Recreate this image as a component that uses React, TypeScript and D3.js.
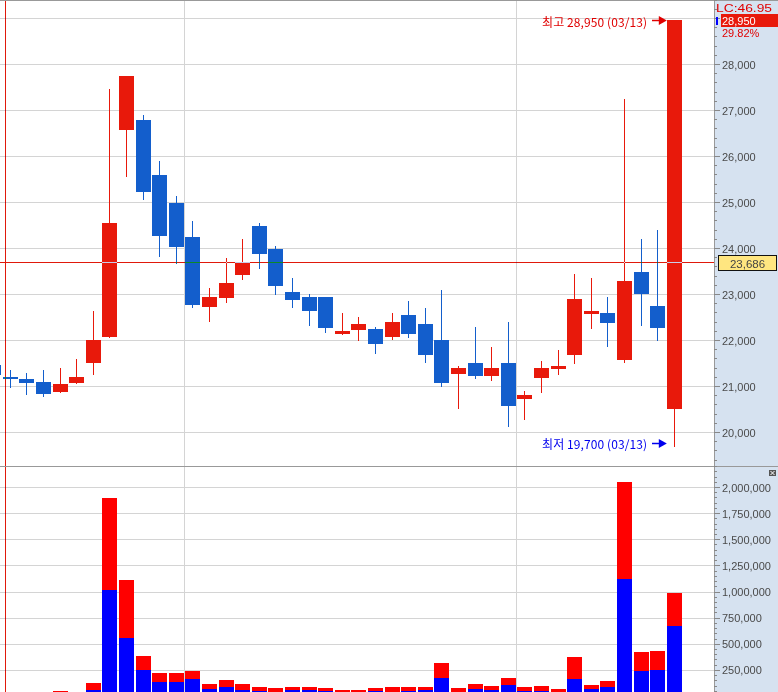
import React from "react";
import * as d3 from "d3";

// ---------- DATA ----------
const dates = [
  "01/11","01/12","01/15","01/16","01/17","01/18","01/19","01/22","01/23","01/24",
  "01/25","01/26","01/29","01/30","01/31","02/01","02/02","02/05","02/06","02/07",
  "02/08","02/13","02/14","02/15","02/16","02/19","02/20","02/21","02/22","02/23",
  "02/26","02/27","02/28","02/29","03/04","03/05","03/06","03/07","03/08","03/11",
  "03/12","03/13",
];
const opens = [
  21450,21200,21150,21090,20880,21070,21490,22070,26570,26780,
  25590,24980,24240,22720,22920,23420,24480,23980,23040,22940,
  22940,22120,22220,22240,22070,22540,22350,22000,21270,21500,
  21220,21500,20720,21180,21380,21680,22570,22590,21570,23480,
  22740,20490,
];
const highs = [
  21500,21350,21280,21350,21390,21590,22630,27450,27740,26900,
  25890,25130,24590,23130,23780,24200,24540,24040,23350,23000,
  22940,22590,22500,22280,22590,22850,22700,23090,21430,22280,
  21850,22390,20900,21550,21780,23430,23350,22940,27240,24200,
  24390,28950,
];
const lows = [
  21200,20980,20830,20790,20870,21070,21260,22070,25570,25070,
  23830,23680,22720,22420,22830,23330,23570,22990,22720,22330,
  22180,22120,21990,21720,22030,22070,21530,20990,20530,21180,
  21140,20140,20290,20880,21270,21490,22270,21880,21530,22330,
  21990,19700,
];
const closes = [
  21250,21150,21070,20830,21040,21200,22000,24550,27740,25220,
  24270,24030,22770,22940,23240,23700,23880,23180,22880,22620,
  22270,22200,22350,21920,22390,22120,21680,21070,21390,21220,
  21390,20570,20800,21390,21440,22890,22640,22380,23280,22990,
  22270,28950,
];
const volBlue = [
  15000,15000,10000,15000,20000,15000,58000,1010000,558000,250000,
  135000,135000,163000,67000,87000,58000,48000,38000,58000,58000,
  48000,30000,30000,48000,30000,48000,58000,173000,25000,67000,
  58000,106000,48000,48000,20000,163000,67000,87000,1115000,240000,
  250000,673000,
];
const volRed = [
  15000,15000,15000,20000,28000,20000,67000,884000,548000,135000,
  86000,86000,77000,48000,67000,57000,39000,39000,29000,29000,
  29000,28000,28000,29000,57000,39000,29000,144000,52000,48000,
  38000,67000,39000,48000,47000,212000,39000,57000,933000,183000,
  183000,308000,
];
const priceGrid = [20000,21000,22000,23000,24000,25000,26000,27000,28000,29000];
const priceLabels = [20000,21000,22000,23000,24000,25000,26000,27000,28000];
const volTicks = [250000,500000,750000,1000000,1250000,1500000,1750000,2000000];
const lastClose = 28950;
const lastChangeLabel = "29.82%";
const lcLabel = "LC:46.95";
const crossPrice = 23686;
const highLabel = "최고 28,950 (03/13)";
const lowLabel = "최저 19,700 (03/13)";

// ---------- LAYOUT ----------
const W = 778;
const H = 692;
const plotRight = 714;
const sep = 466;
const RED = "#e8190b";
const BLUE = "#135ecc";
const AXIS_BG = "#d6e2f0";
const GRID = "#d4d4d4";
const fmt = d3.format(",");

export default function App() {
  const x = d3.scaleLinear().domain([0, dates.length - 1]).range([-6.3, 674.3]);
  const y = d3.scaleLinear().domain([20000, 28000]).range([432, 64]);
  const yv = d3.scaleLinear().domain([0, 2000000]).range([696, 487]);
  const bw = 15;
  const px = (v: number) => Math.round(v) + 0.5;

  const priceMinor = d3.range(19000, 29801, 200);
  const volMinor = d3.range(0, 2200001, 50000);

  const yc = y(crossPrice);
  const hx = x(dates.length - 1) - bw / 2;

  return (
    <svg width={W} height={H} style={{ position: "absolute", left: 0, top: 0, display: "block" }}
      fontFamily="'Liberation Sans', Arial, sans-serif">
      <defs>
        <clipPath id="cTop"><rect x={0} y={0} width={plotRight} height={sep} /></clipPath>
        <clipPath id="cBot"><rect x={0} y={sep} width={plotRight} height={H - sep} /></clipPath>
        <clipPath id="cAxTop"><rect x={plotRight} y={0} width={W - plotRight} height={sep} /></clipPath>
        <clipPath id="cAxBot"><rect x={plotRight} y={sep} width={W - plotRight} height={H - sep} /></clipPath>
      </defs>
      <g style={{ isolation: "isolate" }}>
        <rect x={0} y={0} width={W} height={H} fill="#fff" />
        <rect x={plotRight} y={0} width={W - plotRight} height={H} fill={AXIS_BG} />

        {/* price grid */}
        <g clipPath="url(#cTop)" shapeRendering="crispEdges">
          {priceGrid.map((t) => (
            <line key={t} x1={0} x2={plotRight} y1={px(y(t))} y2={px(y(t))} stroke={GRID} />
          ))}
          {[184, 516].map((gx) => (
            <line key={gx} x1={gx + 0.5} x2={gx + 0.5} y1={0} y2={sep} stroke={GRID} />
          ))}
        </g>
        {/* volume grid */}
        <g clipPath="url(#cBot)" shapeRendering="crispEdges">
          {volTicks.map((t) => (
            <line key={t} x1={0} x2={plotRight} y1={px(yv(t))} y2={px(yv(t))} stroke={GRID} />
          ))}
          {[184, 516].map((gx) => (
            <line key={gx} x1={gx + 0.5} x2={gx + 0.5} y1={sep} y2={H} stroke={GRID} />
          ))}
        </g>

        {/* candles */}
        <g clipPath="url(#cTop)">
          {dates.map((d, i) => {
            const o = opens[i], c = closes[i], h = highs[i], l = lows[i];
            const up = c >= o;
            const col = up ? RED : BLUE;
            const cx = x(i);
            const top = Math.round(y(Math.max(o, c)));
            const bot = Math.round(y(Math.min(o, c)));
            const wx = Math.floor(cx) + 0.5;
            return (
              <g key={d}>
                <line x1={wx} x2={wx} y1={Math.round(y(h))} y2={Math.round(y(l)) + 1} stroke={col} strokeWidth={1} shapeRendering="crispEdges" />
                <rect x={Math.round(cx - bw / 2)} y={top} width={bw} height={Math.max(1, bot - top)} fill={col} shapeRendering="crispEdges" />
              </g>
            );
          })}
        </g>

        {/* volume bars */}
        <g clipPath="url(#cBot)" shapeRendering="crispEdges">
          {dates.map((d, i) => {
            const cx = x(i);
            const b = volBlue[i];
            const r = volRed[i];
            const x0 = Math.round(cx - bw / 2);
            return (
              <g key={d}>
                <rect x={x0} y={Math.round(yv(b))} width={bw} height={Math.round(yv(0)) - Math.round(yv(b))} fill="#0000ff" />
                <rect x={x0} y={Math.round(yv(b + r))} width={bw} height={Math.round(yv(b)) - Math.round(yv(b + r))} fill="#ff0000" />
              </g>
            );
          })}
        </g>

        {/* crosshair (xor-like) */}
        <g style={{ mixBlendMode: "difference" }} shapeRendering="crispEdges">
          <line x1={0} x2={plotRight} y1={px(yc)} y2={px(yc)} stroke="#1fe6f4" />
          <line x1={5.5} x2={5.5} y1={1} y2={H} stroke="#1fe6f4" />
        </g>

        {/* annotations */}
        <g fontFamily="'Noto Sans CJK KR', sans-serif" fontSize={12}>
          <text x={647} y={21} textAnchor="end" dominantBaseline="central" fill="#e00000" textLength={105}>{highLabel}</text>
          <line x1={652} x2={662} y1={20.5} y2={20.5} stroke="#e00000" strokeWidth={1.5} />
          <path d={`M${hx - 8},16 L${hx},20.5 L${hx - 8},25 Z`} fill="#e00000" />
          <text x={647} y={443} textAnchor="end" dominantBaseline="central" fill="#0000ee" textLength={105}>{lowLabel}</text>
          <line x1={652} x2={662} y1={443.5} y2={443.5} stroke="#0000ee" strokeWidth={1.5} />
          <path d={`M${hx - 8},439 L${hx},443.5 L${hx - 8},448 Z`} fill="#0000ee" />
        </g>

        {/* borders */}
        <g shapeRendering="crispEdges">
          <line x1={0} x2={W} y1={0.5} y2={0.5} stroke="#999" />
          <line x1={0} x2={W} y1={sep + 0.5} y2={sep + 0.5} stroke="#999" />
          <line x1={plotRight + 0.5} x2={plotRight + 0.5} y1={0} y2={H} stroke="#999" />
        </g>

        {/* price axis */}
        <g clipPath="url(#cAxTop)" shapeRendering="crispEdges">
          {priceMinor.map((t) => {
            const major = t % 1000 === 0;
            return (
              <line key={t} x1={plotRight} x2={plotRight + (major ? 6 : 3)} y1={px(y(t))} y2={px(y(t))} stroke="#888" />
            );
          })}
        </g>
        <g clipPath="url(#cAxTop)" fontSize={11} fill="#4a4a4a">
          {priceLabels.map((t) => (
            <text key={t} x={722} y={y(t) + 0.5} dominantBaseline="central">{fmt(t)}</text>
          ))}
        </g>
        {/* volume axis */}
        <g clipPath="url(#cAxBot)" shapeRendering="crispEdges">
          {volMinor.map((t) => {
            const major = t % 250000 === 0;
            return (
              <line key={t} x1={plotRight} x2={plotRight + (major ? 6 : 3)} y1={px(yv(t))} y2={px(yv(t))} stroke="#888" />
            );
          })}
        </g>
        <g clipPath="url(#cAxBot)" fontSize={11} fill="#4a4a4a">
          {volTicks.map((t) => (
            <text key={t} x={722} y={yv(t) + 0.5} dominantBaseline="central">{fmt(t)}</text>
          ))}
        </g>

        {/* last price box */}
        <text x={716} y={7.5} dominantBaseline="central" fontSize={11} fill="#e00000" textLength={56} lengthAdjust="spacingAndGlyphs">{lcLabel}</text>
        <rect x={716} y={17} width={2} height={8} fill="#0000ff" />
        <rect x={721} y={14} width={57} height={13} fill={RED} />
        <text x={722} y={20.6} dominantBaseline="central" fontSize={11} fill="#fff">{fmt(lastClose)}</text>
        <text x={722} y={33.4} dominantBaseline="central" fontSize={11} fill="#e00000">{lastChangeLabel}</text>

        {/* crosshair price box */}
        <rect x={718.5} y={255.5} width={58} height={15} fill="#ffe680" stroke="#111" />
        <text x={747.5} y={263.5} textAnchor="middle" dominantBaseline="central" fontSize={11.5} fill="#444">{fmt(crossPrice)}</text>

        {/* small close icon */}
        <rect x={769} y={470} width={7} height={6} fill="#555" />
        <path d="M770.5,471 L774.5,475 M774.5,471 L770.5,475" stroke="#fff" strokeWidth={1} />
      </g>
    </svg>
  );
}
